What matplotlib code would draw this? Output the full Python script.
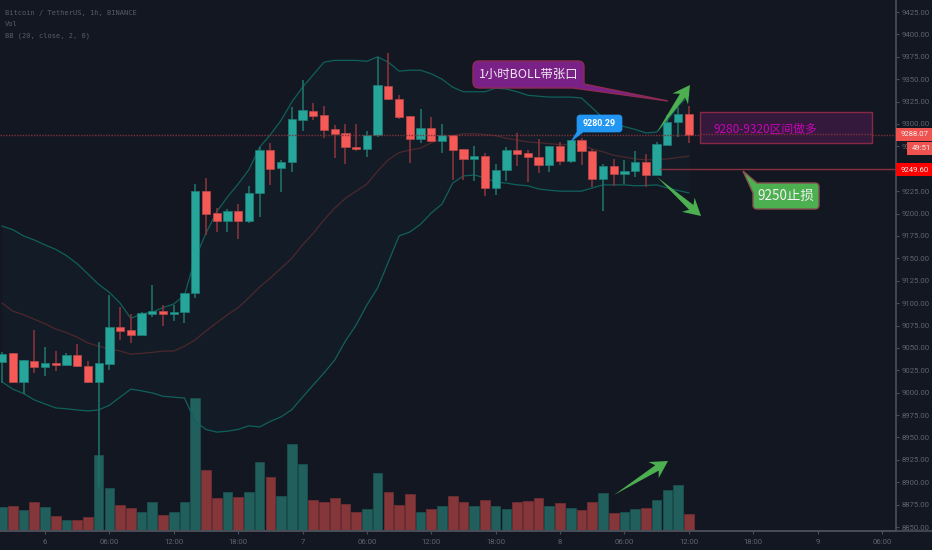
import numpy as np
import matplotlib
matplotlib.use("Agg")
import matplotlib.pyplot as plt
from matplotlib.path import Path
from matplotlib.patches import PathPatch, Rectangle

# ---------- data (BTC/USDT 1h, bar index 0 = day 6 00:00) ----------
first_bar = -4
opens = [9034,9044,9012,9035,9029,9033,9031,9042,9030,9012,9032,9073,9070,9064,9088,9091,9088,9090,9111,9225,
         9201,9192,9203,9192,9223,9271,9251,9257,9304,9315,9310,9294,9290,9274,9272,9288,9342,9328,9309,9283,
         9296,9281,9288,9272,9261,9264,9229,9249,9271,9268,9263,9254,9275,9259,9282,9270,9239,9253,9244,9248,
         9257,9243,9277,9302,9311]
highs = [9045,9044,9037,9070,9051,9046,9044,9054,9035,9057,9109,9096,9088,9090,9120,9098,9098,9111,9233,9240,
         9206,9205,9211,9231,9274,9279,9260,9319,9349,9323,9320,9299,9300,9300,9292,9375,9379,9332,9309,9317,
         9308,9300,9288,9272,9275,9268,9255,9274,9290,9271,9283,9275,9280,9282,9284,9272,9255,9261,9260,9270,
         9267,9280,9310,9319,9320]
lows = [9011,9012,8998,9022,9019,9024,9030,9029,9011,8895,9025,9059,9055,9064,9084,9074,9080,9078,9106,9176,
        9179,9179,9172,9189,9196,9232,9224,9246,9292,9304,9284,9262,9255,9270,9263,9285,9327,9305,9256,9279,
        9280,9268,9237,9237,9236,9220,9221,9236,9253,9235,9245,9246,9254,9256,9254,9230,9203,9231,9233,9241,
        9230,9243,9277,9285,9279]
closes = [9043,9012,9037,9029,9033,9031,9042,9030,9012,9033,9073,9069,9064,9089,9091,9088,9090,9111,9225,9199,
          9192,9203,9192,9223,9271,9250,9257,9305,9316,9309,9293,9289,9274,9272,9288,9343,9328,9308,9283,9296,
          9281,9288,9271,9261,9264,9229,9249,9271,9267,9263,9254,9275,9259,9282,9270,9239,9253,9244,9248,9257,
          9243,9278,9302,9311,9288]
volumes = [23,24,20,28,23,14,10,10,13,75,42,25,22,18,28,15,18,28,132,60,
           32,38,33,38,68,53,34,86,66,30,28,32,26,18,21,57,38,25,36,18,
           21,24,34,28,24,30,24,21,28,29,32,24,27,22,20,28,37,17,18,21,
           22,30,40,45,16]
bb_upper = [9186,9182,9175,9170.5,9165,9160,9153,9144,9132.5,9121,9112,9100,9083,9088,9090,9095,9099,9109,9150,9178,
            9202,9218.5,9233,9249,9274,9288,9304,9324.5,9341,9355,9369,9371,9371,9371,9370,9375,9369,9359,9360,9360,
            9356,9350,9341,9336,9336,9336,9340,9339,9336,9332,9331,9330,9330,9330,9329,9318,9307,9301,9297,9294,
            9290,9291,9304,9320,9332]
bb_basis = [9100,9091,9087,9082,9077,9071,9067,9062,9055.5,9052,9049,9046.5,9043,9044,9045,9046.5,9046.5,9052,9059,9069,
            9078,9087,9095,9106,9118,9128,9139,9150,9165,9178,9193,9206,9217,9225,9233,9247.5,9260,9268,9271,9273,
            9279,9284,9287,9289,9289,9288.3,9287,9284,9282,9280,9279,9278,9277,9277,9277,9272,9269,9265,9263,9261,
            9260,9260,9261,9262.6,9264]
bb_lower = [9012,9004,8999,8992,8987.4,8983,8982,8980.7,8979.6,8980.7,8986,8995,9004,9002,8999.7,8996,8995,8994,8968,8959,
            8956,8957,8959,8963,8961.7,8968,8973,8981,8995,9008.6,9022,9036.5,9057.7,9075.6,9098,9117,9146,9175,9179.4,9188,
            9200.6,9210.6,9234,9242,9243,9240,9235,9234,9232,9231,9227.4,9226,9225,9225,9225,9228.5,9232,9232,9232,9231,
            9231.3,9232,9228.5,9225.7,9223]
price_ticks = list(range(8850, 9426, 25))
time_tick_bars = [0, 6, 12, 18, 24, 30, 36, 42, 48, 54, 60, 66, 72, 78]
time_tick_labels = ["6", "06:00", "12:00", "18:00", "7", "06:00", "12:00", "18:00",
                    "8", "06:00", "12:00", "18:00", "9", "06:00"]
last_price = 9288.07
stop_price = 9249.60

# ---------- style ----------
BG = "#131722"
GREEN = "#26a69a"
RED = "#f55a57"
WICK_G = "#1f6f68"
WICK_R = "#86323a"
VOL_G = "#215f5c"
VOL_R = "#843639"
TXT = "#5f636f"
AXC = "#4a4e59"
ARROW = "#4caf50"
CJK = ["Noto Sans CJK SC", "DejaVu Sans"]

W, H = 932, 550
fig = plt.figure(figsize=(W / 100, H / 100), dpi=100, facecolor=BG)
x_right, y_bottom = 896, 530.5
rect = [0, (H - y_bottom) / H, x_right / W, y_bottom / H]

bars = np.arange(first_bar, first_bar + len(closes))
o, h, l, c = map(np.array, (opens, highs, lows, closes))
up = c >= o
xlim = (-45 / 10.73, (x_right - 45) / 10.73)

# volume pane
axv = fig.add_axes(rect, facecolor=BG)
axv.bar(bars, volumes, width=0.9,
        color=[VOL_G if u else VOL_R for u in up],
        edgecolor=["#1b4f50" if u else "#6f2e34" for u in up], linewidth=0.6)
axv.set_xlim(*xlim)
axv.set_ylim(-0.5, 530)
axv.axis("off")

# price pane
ax = fig.add_axes(rect, facecolor="none")
ax.set_xlim(*xlim)
ax.set_ylim(9438.4 - y_bottom * 1.1164, 9438.4)
ax.fill_between(bars, bb_lower, bb_upper, color=GREEN, alpha=0.04, linewidth=0, zorder=1)
ax.plot(bars, bb_upper, color="#10605b", lw=0.9, zorder=2)
ax.plot(bars, bb_lower, color="#10605b", lw=0.9, zorder=2)
ax.plot(bars, bb_basis, color="#4d272e", lw=0.9, zorder=2)
ax.vlines(bars[up], l[up], h[up], color=WICK_G, lw=1.2, zorder=3)
ax.vlines(bars[~up], l[~up], h[~up], color=WICK_R, lw=1.2, zorder=3)
body_bot = np.minimum(o, c)
body_h = np.maximum(np.abs(c - o), 1)
ax.bar(bars, body_h, bottom=body_bot, width=0.77,
       color=[GREEN if u else RED for u in up],
       edgecolor=["#1d7f77" if u else "#b9474a" for u in up], linewidth=0.5, zorder=4)
ax.axhline(last_price, color="#7d3138", lw=1, ls=(0, (1, 1)), zorder=5)
ax.hlines(stop_price, 57.3, xlim[1], color="#86303c", lw=1, zorder=5)

ax.yaxis.tick_right()
ax.set_yticks(price_ticks)
ax.set_yticklabels([f"{p:.2f}" for p in price_ticks], fontsize=5.6, family="Roboto", color=TXT)
ax.set_xticks(time_tick_bars)
ax.set_xticklabels(time_tick_labels, fontsize=5.6, family="Roboto", color=TXT)
ax.tick_params(axis="both", color=AXC, length=2.2, width=0.8)
ax.tick_params(axis="y", pad=2)
ax.tick_params(axis="x", pad=4)
for s in ("top", "left"):
    ax.spines[s].set_visible(False)
for s in ("right", "bottom"):
    ax.spines[s].set_color(AXC)
    ax.spines[s].set_linewidth(1.2)

# overlay for drawing tools, in figure pixels
ov = fig.add_axes([0, 0, 1, 1], facecolor="none")
ov.set_xlim(0, W)
ov.set_ylim(H, 0)
ov.axis("off")


def rounded_poly(points, **kw):
    verts, codes = [], []
    n = len(points)
    for i, (x, y, r) in enumerate(points):
        p = np.array([x, y], float)
        if r > 0:
            a = np.array(points[i - 1][:2], float) - p
            b = np.array(points[(i + 1) % n][:2], float) - p
            pin = p + r * a / np.linalg.norm(a)
            pout = p + r * b / np.linalg.norm(b)
            verts += [pin, p, pout]
            codes += [Path.LINETO, Path.CURVE3, Path.CURVE3]
        else:
            verts.append(p)
            codes.append(Path.LINETO)
    codes[0] = Path.MOVETO
    verts.append(verts[0])
    codes.append(Path.CLOSEPOLY)
    ov.add_patch(PathPatch(Path(verts, codes), **kw))


def arrow(x0, y0, x1, y1, head=17, neck=3.2, barb=9.5):
    s = np.array([x0, y0], float)
    t = np.array([x1, y1], float)
    u = (t - s) / np.linalg.norm(t - s)
    nrm = np.array([-u[1], u[0]])
    base = t - u * head
    shoulder = t - u * (head - 4)
    pts = [s, shoulder + nrm * neck, base + nrm * barb, t, base - nrm * barb, shoulder - nrm * neck]
    ov.fill(*zip(*pts), color=ARROW, lw=0, zorder=8)


ov.plot([0, W], [y_bottom, y_bottom], color=AXC, lw=1.2, zorder=1)

# long zone
ov.add_patch(Rectangle((700, 112), 172, 31, facecolor="#361a3f", edgecolor="#8c2c45", lw=1, alpha=0.95, zorder=4))
ov.axhline(134.4, xmin=700 / W, xmax=872 / W, color="#7d3138", lw=1, ls=(0, (1, 1)), zorder=5)
ov.text(713, 129, "9280-9320区间做多", family=CJK, fontsize=8.5, color="#c705b4", va="center", ha="left", zorder=6)

# purple callout
rounded_poly([(473, 61, 6), (584, 61, 6), (584, 84, 0), (668, 101, 0), (573, 88, 0), (473, 88, 6)],
             facecolor="#7a2188", edgecolor="#8d2b52", lw=1, zorder=6)
ov.text(528.5, 74.5, "1小时BOLL带张口", family=CJK, fontsize=8.9, color="#efe6f0", ha="center", va="center", zorder=7)

# blue callout
rounded_poly([(577, 115, 3), (622, 115, 3), (622, 132, 3), (583, 132, 0), (571.5, 141, 0), (577, 132, 0)],
             facecolor="#2196f3", edgecolor="#2196f3", lw=0.5, zorder=6)
ov.text(599.5, 123, "9280.29", family="Roboto", weight="bold", fontsize=6.4, color="white", ha="center", va="center", zorder=7)

# green callout
rounded_poly([(743, 171, 0), (757, 183, 0), (819, 183, 4), (819, 209, 4), (753, 209, 4), (753, 193, 0)],
             facecolor="#4caf50", edgecolor="#86504f", lw=1, zorder=6)
ov.text(786, 196, "9250止损", family=CJK, fontsize=9.7, color="#f2f2f2", ha="center", va="center", zorder=7)

arrow(657, 132, 690, 85)
arrow(657, 177, 701, 216)
arrow(614, 495, 668, 461)

# price axis labels
ov.add_patch(Rectangle((896, 128), 36, 13, facecolor="#ef5350", lw=0, zorder=6))
ov.text(900.5, 134.5, "9288.07", family="Roboto", fontsize=5.6, color="#f5f0f0", va="center", zorder=7)
ov.add_patch(Rectangle((907, 142), 25, 13, facecolor="#ef5350", lw=0, zorder=6))
ov.text(912, 148.5, "49:51", family="Roboto", fontsize=5.6, color="#f5f0f0", va="center", zorder=7)
ov.add_patch(Rectangle((896, 163), 36, 13, facecolor="#ff0000", lw=0, zorder=6))
ov.text(900.5, 169.5, "9249.60", family="Roboto", fontsize=5.6, color="#f5f0f0", va="center", zorder=7)

# legend
for y, t in zip((12.5, 24, 35.5), ("Bitcoin / TetherUS, 1h, BINANCE", "Vol", "BB (20, close, 2, 0)")):
    ov.text(5, y, t, family="DejaVu Sans Mono", fontsize=5.0, color="#585c68", va="center", ha="left")

fig.savefig("out.png", dpi=100, facecolor=BG)
